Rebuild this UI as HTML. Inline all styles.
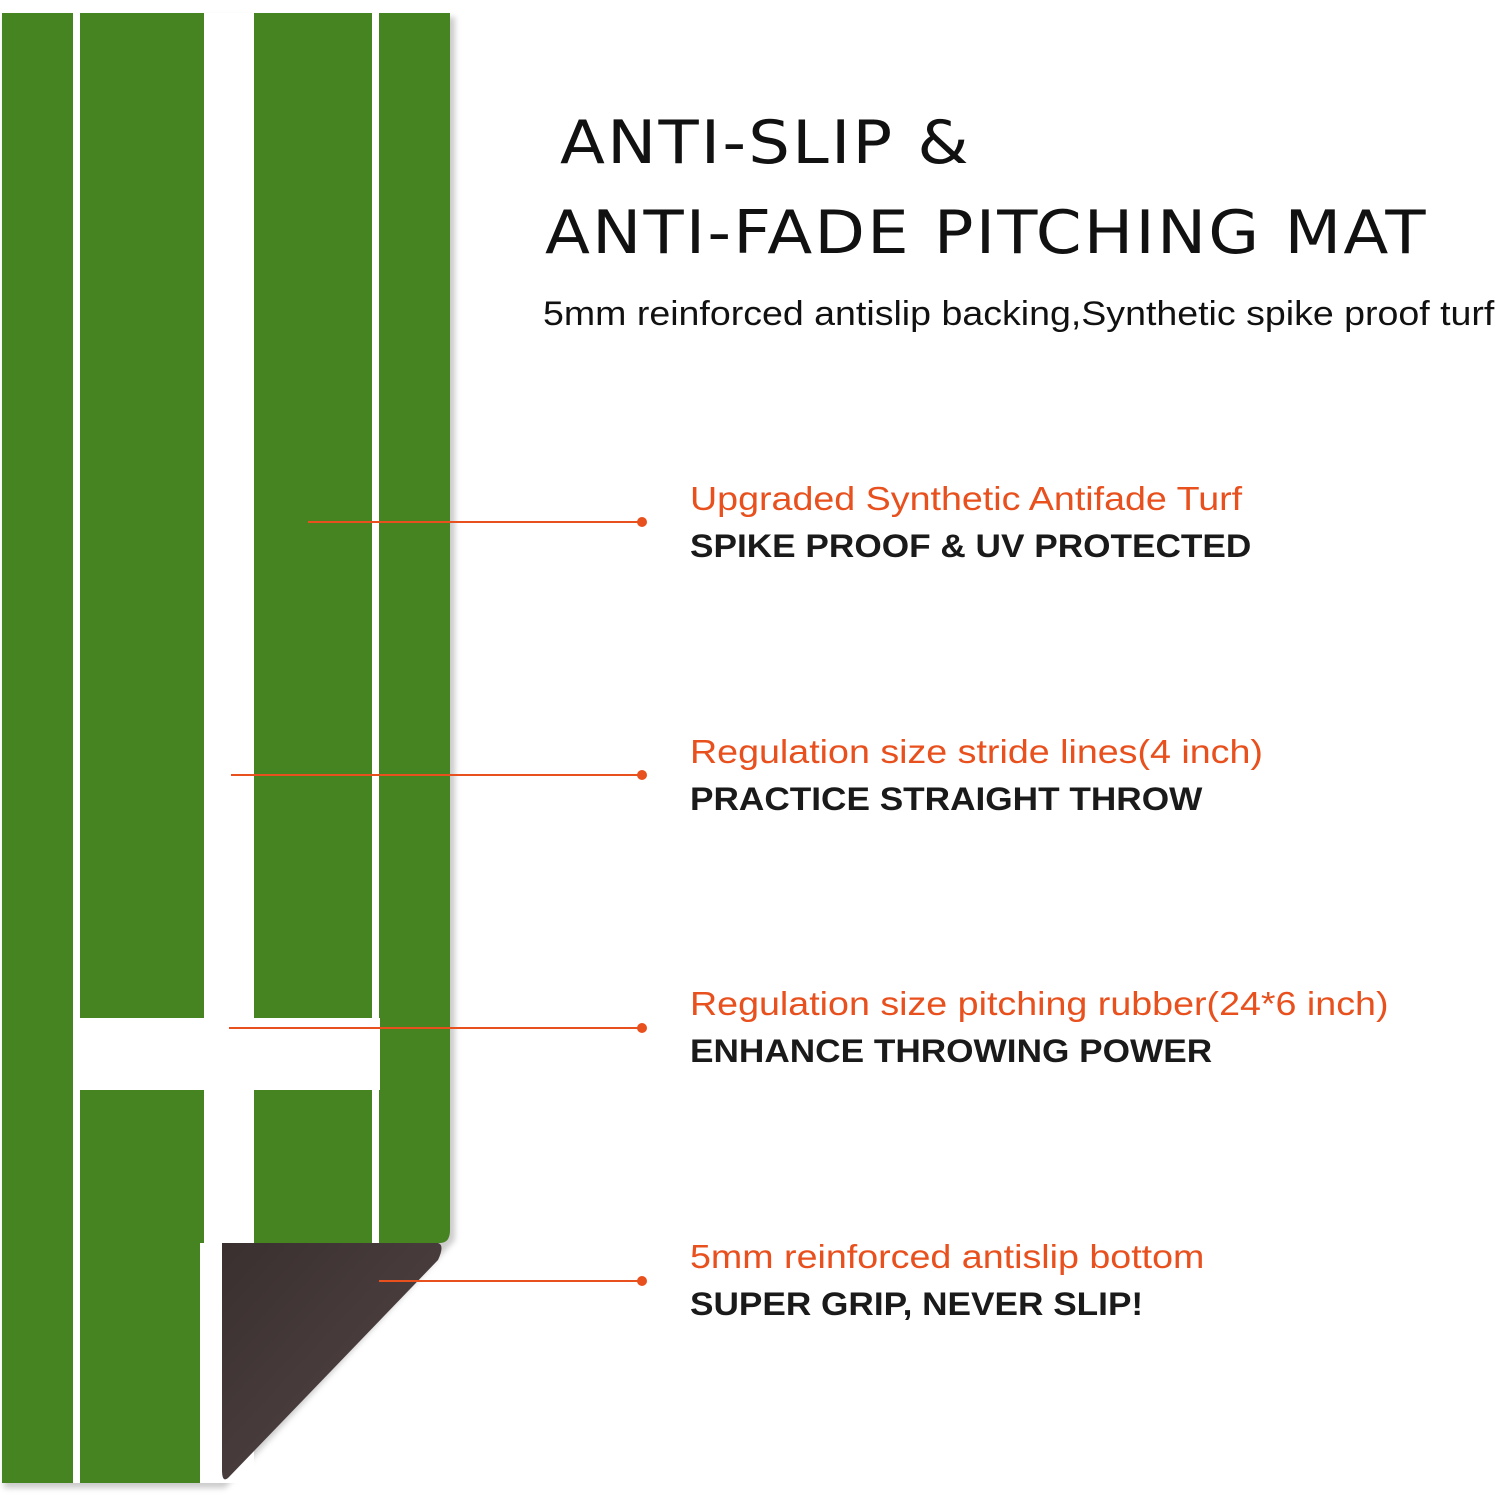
<!DOCTYPE html>
<html><head><style>
body{margin:0;width:1500px;height:1500px;background:#fff;position:relative;overflow:hidden;font-family:"Liberation Sans",sans-serif}
.a{position:absolute;transform-origin:0 0}
.t{font-family:"DejaVu Sans",sans-serif;font-size:60px;color:#111;letter-spacing:2px;white-space:nowrap;transform:scaleX(1.095)}
.o{color:#e8501e;font-size:33px;white-space:nowrap;transform:scaleX(1.14)}
.b{color:#1a1a1a;font-size:32px;font-weight:bold;white-space:nowrap;transform:scaleX(1.1)}
.ln{height:2px;background:#e8501e}
.dot{width:10px;height:10px;border-radius:50%;background:#e8501e}
</style></head><body>
<svg class="a" style="left:0;top:0" width="470" height="1500">
<defs>
<filter id="sh"><feGaussianBlur stdDeviation="3"/></filter>
<linearGradient id="br" x1="0" y1="0" x2="1" y2="1">
<stop offset="0" stop-color="#3a3030"/><stop offset="0.6" stop-color="#4a3d3d"/><stop offset="0.75" stop-color="#5a4d4d"/><stop offset="1" stop-color="#2e2626"/></linearGradient>
</defs>
<path d="M4 17 H455 V1240 L225 1488 H4 Z" fill="#999" filter="url(#sh)" opacity="0.5"/>
<path d="M2 13 H450 V1230 Q450 1243 440 1243 L222 1243 V1483 H2 Z" fill="#468321"/>
<rect x="73" y="13" width="7" height="1470" fill="#fff"/>
<rect x="204" y="13" width="50" height="1470" fill="#fff"/>
<rect x="372" y="13" width="7" height="1230" fill="#fff"/>
<rect x="76" y="1018" width="304" height="72" fill="#fff"/>
<rect x="200" y="1243" width="22" height="240" fill="#fff"/>
<path d="M222 1243 H438 Q445 1245 438 1260 L228 1478 Q222 1483 222 1470 Z" fill="url(#br)"/>
</svg>
<div class="a t" style="left:560px;top:108px">ANTI-SLIP &amp;</div>
<div class="a t" style="left:545px;top:198px">ANTI-FADE PITCHING MAT</div>
<div class="a" style="left:543px;top:295px;font-size:34px;color:#111;white-space:nowrap;transform:scaleX(1.104)">5mm reinforced antislip backing,Synthetic spike proof turf</div>

<div class="a ln" style="left:308px;top:521px;width:330px"></div><div class="a dot" style="left:637px;top:517px"></div>
<div class="a o" style="left:690px;top:480px">Upgraded Synthetic Antifade Turf</div>
<div class="a b" style="left:690px;top:528px">SPIKE PROOF &amp; UV PROTECTED</div>

<div class="a ln" style="left:231px;top:774px;width:407px"></div><div class="a dot" style="left:637px;top:770px"></div>
<div class="a o" style="left:690px;top:733px">Regulation size stride lines(4 inch)</div>
<div class="a b" style="left:690px;top:781px">PRACTICE STRAIGHT THROW</div>

<div class="a ln" style="left:229px;top:1027px;width:409px"></div><div class="a dot" style="left:637px;top:1023px"></div>
<div class="a o" style="left:690px;top:985px">Regulation size pitching rubber(24*6 inch)</div>
<div class="a b" style="left:690px;top:1033px">ENHANCE THROWING POWER</div>

<div class="a ln" style="left:379px;top:1280px;width:259px"></div><div class="a dot" style="left:637px;top:1276px"></div>
<div class="a o" style="left:690px;top:1238px">5mm reinforced antislip bottom</div>
<div class="a b" style="left:690px;top:1286px">SUPER GRIP, NEVER SLIP!</div>
</body></html>
